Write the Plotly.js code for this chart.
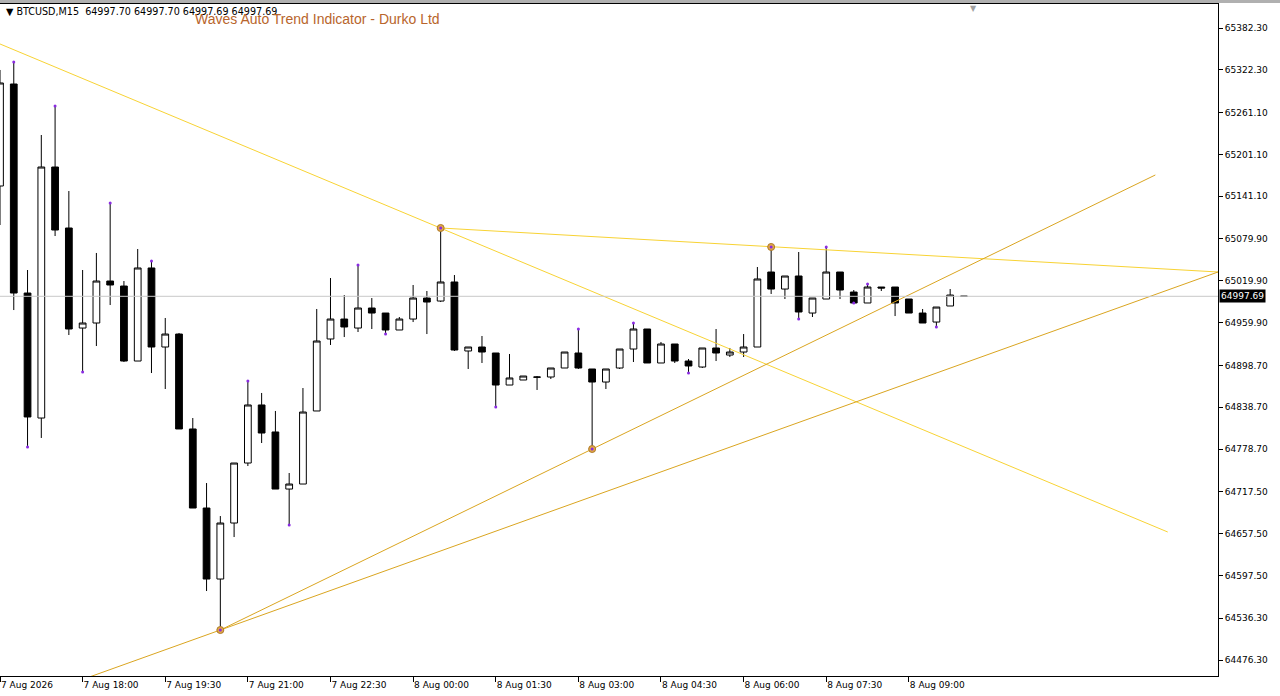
<!DOCTYPE html>
<html>
<head>
<meta charset="utf-8">
<script src="https://cdn.plot.ly/plotly-3.0.1.min.js"></script>
<style>
  html, body { margin: 0; padding: 0; background: #ffffff; }
  #chart { width: 1280px; height: 696px; }
</style>
</head>
<body>
<div id="chart"></div>
<script>
// ---- Data (BTCUSD M15, bar index 0 = 7 Aug 16:30) ----
const barIndex = Array.from({length: 71}, (_, i) => i);
const opens = [65155.8,65302.0,65002.4,64823.2,65183.0,65095.6,64952.2,64959.4,65019.6,65012.4,
  64904.9,65038.3,64925.0,64943.6,64807.5,64694.2,64592.4,64672.7,64758.7,64841.9,
  64803.2,64721.4,64728.6,64833.3,64936.5,64965.1,64952.2,64980.9,64973.7,64949.4,
  64965.1,64995.2,64990.9,65018.2,64919.3,64925.0,64916.4,64870.5,64877.7,64882.0,
  64882.0,64894.9,64916.4,64893.5,64874.8,64894.9,64922.1,64950.8,64902.1,64929.3,
  64904.9,64896.3,64923.6,64913.5,64917.8,64925.0,65032.5,65008.1,65026.8,64973.7,
  64993.8,65032.5,65003.8,64988.1,65011.0,65011.0,64993.8,64973.7,64960.8,64983.8,
  64997.70];
const highs = [65322.1,65333.6,65035.4,65228.9,65270.5,65148.6,65035.4,65059.8,65131.4,65019.6,
  65065.5,65048.3,64966.6,64945.1,64823.2,64730.0,64682.7,64758.7,64876.3,64859.1,
  64833.3,64744.4,64866.2,64979.5,65023.9,64999.5,65042.6,64995.2,64973.7,64968.0,
  65013.9,65005.3,65095.6,65028.2,64925.0,64940.8,64916.4,64915.0,64883.4,64883.4,
  64894.9,64917.8,64950.8,64893.5,64893.5,64922.1,64959.4,64950.8,64932.2,64929.3,
  64907.8,64923.6,64950.8,64923.6,64943.6,65039.7,65068.4,65026.8,65061.2,64995.2,
  65068.4,65032.5,65006.7,65015.3,65011.0,65011.0,64993.8,64979.5,64982.3,65008.1,
  64997.70];
const lows = [65099.9,64978.0,64781.7,64794.6,65084.1,64942.2,64889.2,64926.4,64985.2,64903.5,
  64904.9,64887.7,64864.8,64807.5,64694.2,64575.2,64519.3,64652.6,64754.4,64787.4,
  64721.4,64669.8,64728.6,64833.3,64927.9,64939.3,64946.5,64950.8,64943.6,64949.4,
  64960.8,64943.6,64989.5,64919.3,64893.5,64902.1,64839.0,64870.5,64877.7,64863.4,
  64879.1,64894.9,64893.5,64778.8,64864.8,64893.5,64903.5,64902.1,64902.1,64902.1,
  64887.7,64894.9,64904.9,64910.7,64910.7,64925.0,65001.0,64993.8,64965.1,64968.0,
  64993.8,64993.8,64988.1,64988.1,65005.3,64969.4,64973.7,64959.4,64953.7,64983.8,
  64997.69];
const closes = [65303.5,65002.4,64824.7,65183.0,65092.7,64950.8,64959.4,65019.6,65013.9,64904.9,
  65038.3,64925.0,64943.6,64807.5,64694.2,64592.4,64672.7,64758.7,64841.9,64801.7,
  64721.4,64728.6,64831.8,64933.6,64965.1,64953.7,64980.9,64973.7,64949.4,64965.1,
  64995.2,64989.5,65018.2,64920.7,64925.0,64917.8,64870.5,64880.6,64883.4,64881.8,
  64894.9,64917.8,64894.9,64874.8,64893.5,64922.1,64950.8,64902.1,64929.3,64904.9,
  64897.8,64923.6,64916.4,64917.8,64925.0,65022.5,65008.1,65026.8,64975.2,64995.2,
  65032.5,65006.7,64988.1,65011.0,65009.6,64988.1,64973.7,64959.4,64982.3,64999.5,
  64997.69];

// Fractal marks (purple)
const fractalX = [1,4,8,11,18,26,32,42,46,56,60,63, 2,6,16,21,28,36,43,50,58,62,68];
const fractalP = [65333.6,65270.5,65131.4,65048.3,64876.3,65042.6,65095.6,64950.8,64959.4,65068.4,65068.4,65015.3,
                  64781.7,64889.2,64519.3,64669.8,64943.6,64839.0,64778.8,64887.7,64965.1,64988.1,64953.7];

// Trend anchor points (orange)
const anchorX = [16, 32, 43, 56];
const anchorP = [64519.3, 65095.6, 64778.8, 65068.4];

// Trend lines: start/end (bar index, price)
const trendX0 = [0, 32, 16, 0];
const trendP0 = [65359.4, 65095.6, 64519.3, 64406.0];
const trendX1 = [84.8, 90, 83.9, 90];
const trendP1 = [64659.8, 65030.8, 65171.6, 65043.5];
const trendColors = ['#F8D334', '#F8D334', '#DAA520', '#DAA520'];

// Axis ticks
const yTicks = [65382.30,65322.30,65261.10,65201.10,65141.10,65079.90,65019.90,64959.90,
                64898.70,64838.70,64778.70,64717.50,64657.50,64597.50,64536.30,64476.30];
const xTickIdx = [0,6,12,18,24,30,36,42,48,54,60,66];
const xTickText = ['7 Aug 2026','7 Aug 18:00','7 Aug 19:30','7 Aug 21:00','7 Aug 22:30',
  '8 Aug 00:00','8 Aug 01:30','8 Aug 03:00','8 Aug 04:30','8 Aug 06:00','8 Aug 07:30','8 Aug 09:00'];

const lastPrice = 64997.69;
const headerText = '\u25BC BTCUSD,M15\u00A0\u00A064997.70 64997.70 64997.69 64997.69';
const indicatorTitle = 'Waves Auto Trend Indicator - Durko Ltd';

// ---- Traces ----
const traces = [];
for (let k = 0; k < trendX0.length; k++) {
  traces.push({
    type: 'scatter', mode: 'lines',
    x: [trendX0[k], trendX1[k]], y: [trendP0[k], trendP1[k]],
    line: {color: trendColors[k], width: 1},
    hoverinfo: 'skip', showlegend: false
  });
}
traces.push({
  type: 'scatter', mode: 'lines',
  x: [-5, 100], y: [lastPrice, lastPrice],
  line: {color: '#c8c8c8', width: 1},
  hoverinfo: 'skip', showlegend: false
});
traces.push({
  type: 'candlestick',
  x: barIndex, open: opens, high: highs, low: lows, close: closes,
  increasing: {line: {color: '#000000', width: 1}, fillcolor: '#ffffff'},
  decreasing: {line: {color: '#000000', width: 1}, fillcolor: '#000000'},
  whiskerwidth: 0,
  showlegend: false
});
traces.push({
  type: 'scatter', mode: 'markers',
  x: anchorX, y: anchorP,
  marker: {size: 7, color: '#E0A848', line: {color: '#B07A28', width: 1}},
  hoverinfo: 'skip', showlegend: false
});
traces.push({
  type: 'scatter', mode: 'markers',
  x: fractalX, y: fractalP,
  marker: {size: 3, color: '#8A2BE2'},
  hoverinfo: 'skip', showlegend: false
});

const baseFont = {family: 'DejaVu Sans, Verdana, sans-serif', size: 9, color: '#000000'};

const layout = {
  width: 1280, height: 696,
  margin: {l: 0, r: 62, t: 4, b: 20, pad: 0},
  paper_bgcolor: '#ffffff', plot_bgcolor: '#ffffff',
  showlegend: false,
  font: baseFont,
  xaxis: {
    range: [0, 88.45],
    rangeslider: {visible: false},
    showgrid: false, zeroline: false,
    showline: true, linecolor: '#000000', linewidth: 1, mirror: true,
    ticks: 'outside', ticklen: 5, tickcolor: '#000000', tickwidth: 1,
    tickmode: 'array', tickvals: xTickIdx, ticktext: xTickText,
    ticklabelposition: 'outside right',
    tickfont: baseFont,
    fixedrange: true
  },
  yaxis: {
    range: [64453.4, 65416.7],
    side: 'right',
    showgrid: false, zeroline: false,
    showline: true, linecolor: '#000000', linewidth: 1, mirror: true,
    ticks: 'outside', ticklen: 4, tickcolor: '#000000', tickwidth: 1,
    tickmode: 'array', tickvals: yTicks, tickformat: '.2f',
    tickfont: baseFont,
    fixedrange: true
  },
  shapes: [
    {type: 'rect', xref: 'paper', yref: 'paper', x0: -0.01, x1: 1.06, y0: 1.0015, y1: 1.008,
     fillcolor: '#b0b0b0', line: {width: 0}, layer: 'above'}
  ],
  annotations: [
    {xref: 'paper', yref: 'paper', x: 0.003, y: 0.9885, xanchor: 'left', yanchor: 'middle',
     text: headerText, showarrow: false,
     font: {family: 'DejaVu Sans, Verdana, sans-serif', size: 9.6, color: '#000000'}},
    {xref: 'paper', yref: 'paper', x: 193/1218, y: 0.977, xanchor: 'left', yanchor: 'middle',
     text: indicatorTitle, showarrow: false,
     font: {family: 'Liberation Sans, Arial, sans-serif', size: 14, color: '#B8652C'}},
    {xref: 'paper', yref: 'paper', x: 973/1218, y: 1.003, xanchor: 'center', yanchor: 'top',
     text: '\u25BC', showarrow: false, font: {family: 'DejaVu Sans', size: 8, color: '#a0a0a0'}},
    {xref: 'paper', yref: 'y', x: 1, y: lastPrice, xanchor: 'left', yanchor: 'middle', xshift: 1,
     text: lastPrice.toFixed(2), showarrow: false, bgcolor: '#000000', borderpad: 1,
     font: {family: 'DejaVu Sans, Verdana, sans-serif', size: 9, color: '#ffffff'}}
  ]
};

Plotly.newPlot('chart', traces, layout, {staticPlot: true, displayModeBar: false});
</script>
</body>
</html>
